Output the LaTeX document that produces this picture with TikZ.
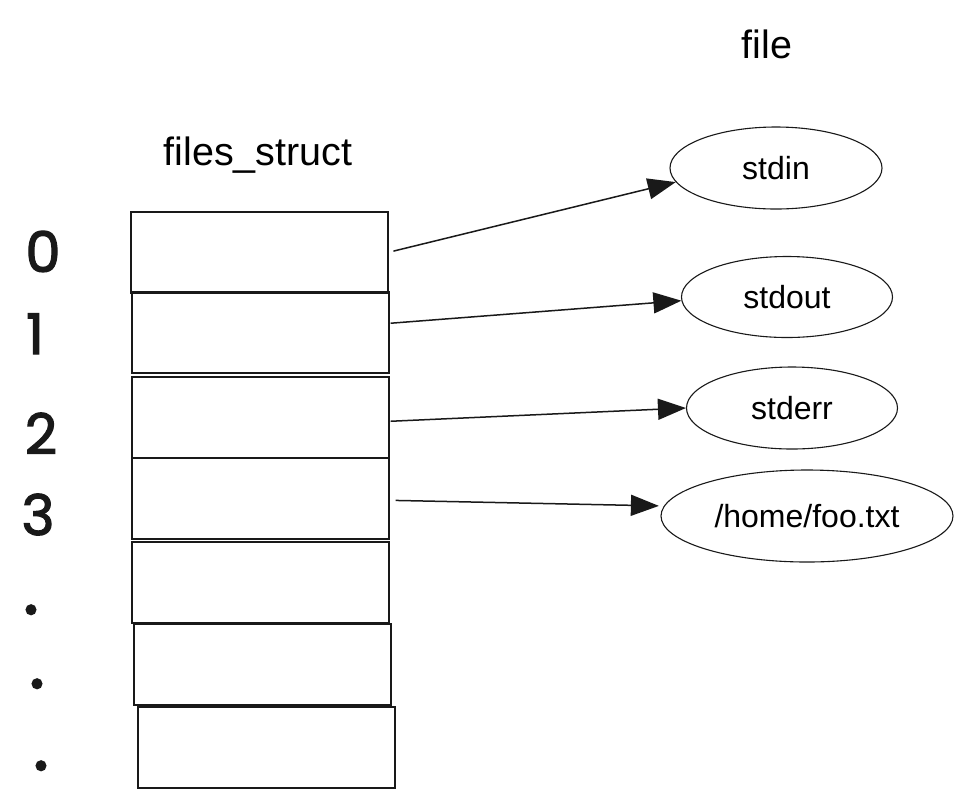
\documentclass[tikz,border=0pt]{standalone}
\usepackage{fontspec}
\setmainfont{Liberation Sans}
\newfontfamily\handfont[FakeBold=2.2]{Poppins}
\usetikzlibrary{shapes.geometric,arrows.meta}
\begin{document}
\begin{tikzpicture}[x=1pt,y=-1pt,
  slot/.style={draw=black!90,line width=1.6pt,minimum width=257pt,minimum height=81pt,inner sep=0pt,anchor=north west},
  fobj/.style={draw=black!90,line width=1.1pt,ellipse,inner sep=0pt,font=\fontsize{32}{34}\selectfont},
  title/.style={font=\fontsize{39.5}{42}\selectfont,anchor=base},
  idx/.style={font=\handfont\fontsize{56}{60}\selectfont,anchor=base,text=black!90},
  dotidx/.style={font=\handfont\fontsize{76}{80}\selectfont,anchor=base,text=black!90},
  ptr/.style={line width=1.5pt,draw=black!90,-{Triangle[length=28pt,width=21pt]}}]
\useasboundingbox[fill=white] (0,0) rectangle (972,807);
% titles
\node[title] (tfile) at (767,58) {file};
\node[title] (tfs) at (258,165) {files\_struct};
% slots
\node[slot] (b0) at (130,211) {};
\node[slot] (b1) at (131,291) {};
\node[slot] (b2) at (131,376) {};
\node[slot] (b3) at (131,457) {};
\node[slot] (b4) at (131,541) {};
\node[slot] (b5) at (133,623) {};
\node[slot] (b6) at (137,706) {};
% indices
\node[idx] (i0) at (43,272) {0};
\node[idx] (i1) at (35,354) {1};
\node[idx] (i2) at (41,454) {2};
\node[idx] (i3) at (38,535) {3};
\node[dotidx] (d1) at (31,614) {.};
\node[dotidx] (d2) at (37,688) {.};
\node[dotidx] (d3) at (41,770) {.};
% file objects
\node[fobj,minimum width=212pt,minimum height=82pt] (e0) at (776,168) {stdin};
\node[fobj,minimum width=211pt,minimum height=81pt] (e1) at (787,297) {stdout};
\node[fobj,minimum width=211pt,minimum height=82pt] (e2) at (792,408) {stderr};
\node[fobj,minimum width=292pt,minimum height=92pt] (e3) at (807,516) {/home/foo.txt};
% pointers
\draw[ptr,shorten <=5pt] (b0.east) -- (e0.188);
\draw[ptr,shorten <=1pt] ([yshift=9pt]b1.east) -- (e1.182);
\draw[ptr,shorten <=1pt] ([yshift=-4pt]b2.east) -- (e2.west);
\draw[ptr,shorten <=6pt,shorten >=5pt] ([yshift=-2pt]b3.east) -- (e3.176);
\end{tikzpicture}
\end{document}
